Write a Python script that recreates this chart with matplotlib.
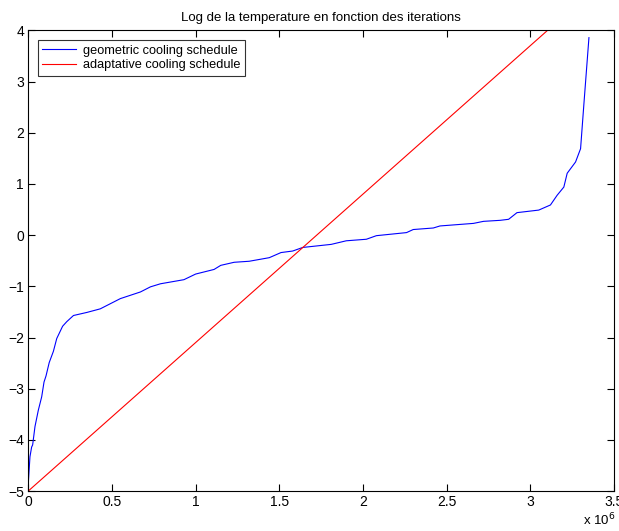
import matplotlib
matplotlib.use("Agg")
import matplotlib.pyplot as plt
import numpy as np

plt.rcParams['font.family'] = ['Liberation Sans', 'DejaVu Sans']

# data (iterations in millions, log temperature)
geo_x = [0.0, 0.01, 0.02, 0.026, 0.04, 0.06, 0.08, 0.094, 0.106, 0.125, 0.15, 0.17,
         0.205, 0.23, 0.27, 0.35, 0.43, 0.55, 0.67, 0.73, 0.79, 0.93, 1.0, 1.11,
         1.15, 1.23, 1.32, 1.44, 1.51, 1.58, 1.64, 1.81, 1.90, 2.02, 2.08, 2.26,
         2.30, 2.42, 2.46, 2.66, 2.72, 2.82, 2.87, 2.92, 3.05, 3.12, 3.16, 3.20,
         3.22, 3.27, 3.30, 3.32, 3.35]
geo_y = [-4.85, -4.33, -4.14, -4.10, -3.74, -3.42, -3.16, -2.87, -2.75, -2.49, -2.27, -2.02,
         -1.78, -1.69, -1.57, -1.51, -1.44, -1.24, -1.11, -1.01, -0.95, -0.87, -0.76, -0.67,
         -0.59, -0.53, -0.51, -0.44, -0.34, -0.31, -0.24, -0.18, -0.11, -0.08, -0.01, 0.05,
         0.11, 0.14, 0.18, 0.23, 0.27, 0.29, 0.31, 0.44, 0.49, 0.59, 0.78, 0.94,
         1.21, 1.43, 1.69, 2.57, 3.86]
adapt_x = [0.0, 3.35]
adapt_y = [-5.0, 4.72]

xticks = [0, 0.5, 1, 1.5, 2, 2.5, 3, 3.5]
xtick_labels = ['0', '0.5', '1', '1.5', '2', '2.5', '3', '3.5']
yticks = [-5, -4, -3, -2, -1, 0, 1, 2, 3, 4]

fig = plt.figure(figsize=(6.19, 5.31), dpi=100)
ax = fig.add_axes([0.0457, 0.0753, 0.9463, 0.8673])

scale = 1e6
ax.plot(np.array(geo_x) * scale, geo_y, color=(0, 0, 1), lw=0.8,
        label='geometric cooling schedule')
ax.plot(np.array(adapt_x) * scale, adapt_y, color=(1, 0, 0), lw=0.8,
        label='adaptative cooling schedule')

ax.set_xlim(0, 3.5e6)
ax.set_ylim(-5, 4)
ax.set_xticks([t * scale for t in xticks])
ax.set_xticklabels(xtick_labels)
ax.set_yticks(yticks)
ax.set_yticklabels([str(v).replace('-', '\u2212') for v in yticks])
ax.tick_params(direction='in', top=True, right=True, length=5, width=0.8,
               labelsize=10, pad=3)
for s in ax.spines.values():
    s.set_linewidth(0.8)

ax.set_title('Log de la temperature en fonction des iterations', fontsize=9.5, pad=7)
fig.text(0.942, 0.005, r'x 10$^6$', fontsize=9.5, ha='left', va='bottom')

leg = ax.legend(loc='upper left', fontsize=9.2, frameon=True, fancybox=False,
                edgecolor='black', handlelength=2.6, borderpad=0.35,
                labelspacing=0.2, handletextpad=0.6, borderaxespad=0.75)
leg.get_frame().set_linewidth(0.8)

fig.savefig('out.png', dpi=100)
